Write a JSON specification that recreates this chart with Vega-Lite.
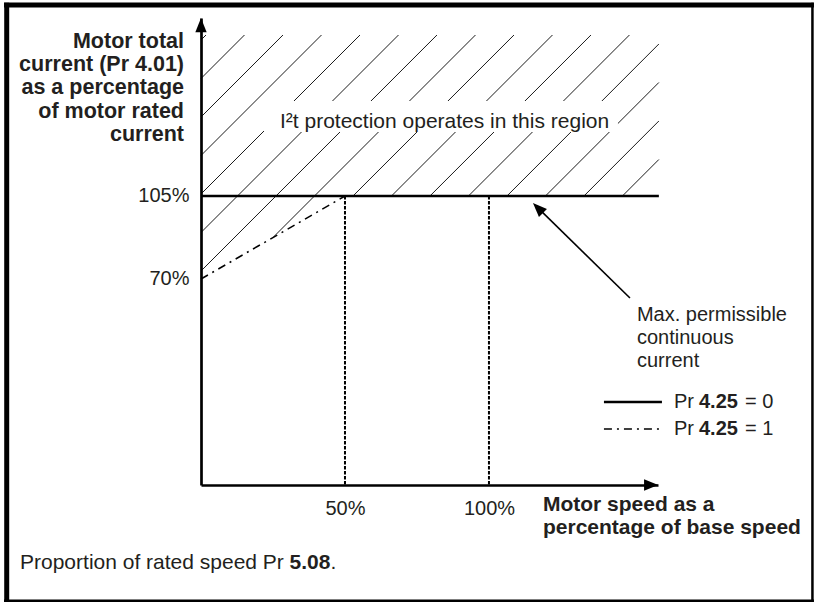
{
  "$schema": "https://vega.github.io/schema/vega-lite/v6.json",
  "width": 457,
  "height": 467,
  "autosize": {"type": "none"},
  "padding": {"left": 201, "top": 18, "right": 157, "bottom": 117},
  "background": "white",
  "config": {"view": {"stroke": null}, "font": "Liberation Sans"},
  "encoding": {
    "x": {
      "field": "x", "type": "quantitative",
      "scale": {"domain": [0, 158.7], "nice": false, "zero": false},
      "axis": {"values": [50, 100], "labelExpr": "datum.value + '%'", "title": null, "grid": false,
        "ticks": false, "tickSize": 0, "domainColor": "#000000", "domainWidth": 2.7,
        "labelFont": "Liberation Sans", "labelFontSize": 20, "labelColor": "#231f20", "labelPadding": 13,
        "labelFlush": false, "labelOverlap": false}
    },
    "y": {
      "field": "y", "type": "quantitative",
      "scale": {"domain": [-16.89, 180.07], "nice": false, "zero": false},
      "axis": {"values": [70, 105], "labelExpr": "datum.value + '%'", "title": null, "grid": false,
        "ticks": false, "tickSize": 0, "domainColor": "#000000", "domainWidth": 2.7,
        "labelFont": "Liberation Sans", "labelFontSize": 20, "labelColor": "#231f20", "labelPadding": 12,
        "labelFlush": false, "labelOverlap": false}
    }
  },
  "layer": [
    {
      "data": {"values": [
        {"x": -67.47, "y": 186.53, "x2": -67.47, "y2": -66.24},
        {"x": -68.4, "y": 185.56, "x2": 212.85, "y2": 185.56}
      ]},
      "mark": {"type": "rule", "color": "#000000", "strokeWidth": 5},
      "encoding": {"x2": {"field": "x2"}, "y2": {"field": "y2"}}
    },
    {
      "data": {"values": [
        {"x": 212.33, "y": 186.53, "x2": 212.33, "y2": -66.24},
        {"x": -68.4, "y": -65.69, "x2": 212.85, "y2": -65.69}
      ]},
      "mark": {"type": "rule", "color": "#000000", "strokeWidth": 2.5},
      "encoding": {"x2": {"field": "x2"}, "y2": {"field": "y2"}}
    },
    {
      "data": {"values": [
        {"x": 1.74, "y": 172.9, "x2": 0, "y2": 170.8},
        {"x": 15.10, "y": 172.9, "x2": 0, "y2": 154.56},
        {"x": 28.47, "y": 172.9, "x2": 0, "y2": 138.32},
        {"x": 41.84, "y": 172.9, "x2": 0, "y2": 122.08},
        {"x": 55.21, "y": 172.9, "x2": 0, "y2": 105.84},
        {"x": 68.58, "y": 172.9, "x2": 0, "y2": 89.61},
        {"x": 81.94, "y": 172.9, "x2": 0, "y2": 73.37},
        {"x": 95.31, "y": 172.9, "x2": 25.24, "y2": 87.79},
        {"x": 108.68, "y": 172.9, "x2": 52.78, "y2": 105},
        {"x": 122.05, "y": 172.9, "x2": 66.15, "y2": 105},
        {"x": 135.42, "y": 172.9, "x2": 79.51, "y2": 105},
        {"x": 148.78, "y": 172.9, "x2": 92.88, "y2": 105},
        {"x": 159.0, "y": 169.11, "x2": 106.25, "y2": 105},
        {"x": 159.0, "y": 152.87, "x2": 119.62, "y2": 105},
        {"x": 159.0, "y": 136.63, "x2": 132.99, "y2": 105},
        {"x": 159.0, "y": 120.39, "x2": 146.35, "y2": 105}
      ]},
      "mark": {"type": "rule", "color": "#000000", "strokeWidth": 0.9},
      "encoding": {"x2": {"field": "x2"}, "y2": {"field": "y2"}}
    },
    {
      "data": {"values": [
        {"x": 21.88, "y": 145.07, "x2": 144.79, "y2": 131.99}
      ]},
      "mark": {"type": "rect", "fill": "#ffffff", "stroke": null},
      "encoding": {"x2": {"field": "x2"}, "y2": {"field": "y2"}}
    },
    {
      "data": {"values": [
        {"x": 0, "y": 105, "x2": 159.0, "y2": 105},
        {"x": 139.93, "y": 18.12, "x2": 160.07, "y2": 18.12}
      ]},
      "mark": {"type": "rule", "color": "#000000", "strokeWidth": 2.4},
      "encoding": {"x2": {"field": "x2"}, "y2": {"field": "y2"}}
    },
    {
      "data": {"values": [
        {"x": 50, "y": 105, "x2": 50, "y2": -16.89},
        {"x": 100, "y": 105, "x2": 100, "y2": -16.89}
      ]},
      "mark": {"type": "rule", "color": "#000000", "strokeWidth": 2, "strokeDash": [3.5, 1.5]},
      "encoding": {"x2": {"field": "x2"}, "y2": {"field": "y2"}}
    },
    {
      "data": {"values": [
        {"x": 0, "y": 70, "x2": 50, "y2": 105},
        {"x": 139.93, "y": 6.73, "x2": 160.07, "y2": 6.73}
      ]},
      "mark": {"type": "rule", "color": "#000000", "strokeWidth": 1.5, "strokeDash": [8, 5, 2, 5]},
      "encoding": {"x2": {"field": "x2"}, "y2": {"field": "y2"}}
    },
    {
      "data": {"values": [
        {"x": 148.96, "y": 61.98, "x2": 117.01, "y2": 99.98}
      ]},
      "mark": {"type": "rule", "color": "#000000", "strokeWidth": 1.6},
      "encoding": {"x2": {"field": "x2"}, "y2": {"field": "y2"}}
    },
    {
      "data": {"values": [{"x": 0, "y": 177.09}]},
      "mark": {"type": "point", "shape": "M0,-1L0.8,1L-0.8,1Z", "size": 200, "filled": true, "color": "#000000", "opacity": 1, "angle": 0}
    },
    {
      "data": {"values": [{"x": 156.32, "y": -16.89}]},
      "mark": {"type": "point", "shape": "M0,-1L0.8,1L-0.8,1Z", "size": 200, "filled": true, "color": "#000000", "opacity": 1, "angle": 90}
    },
    {
      "data": {"values": [{"x": 117.01, "y": 99.98}]},
      "mark": {"type": "point", "shape": "M0,-1L0.8,1L-0.8,1Z", "size": 200, "filled": true, "color": "#000000", "opacity": 1, "angle": 315}
    },
    {
      "data": {"values": [
        {"x": 151.39, "y": 54.81, "t": "Max. permissible"},
        {"x": 151.39, "y": 45.11, "t": "continuous"},
        {"x": 151.39, "y": 35.41, "t": "current"},
        {"x": 164.24, "y": 18.12, "t": "Pr"},
        {"x": 164.24, "y": 6.73, "t": "Pr"},
        {"x": 188.89, "y": 18.12, "t": "= 0"},
        {"x": 188.89, "y": 6.73, "t": "= 1"}
      ]},
      "mark": {"type": "text", "align": "left", "baseline": "middle", "font": "Liberation Sans", "fontSize": 20, "color": "#231f20"},
      "encoding": {"text": {"field": "t", "type": "nominal"}}
    },
    {
      "data": {"values": [
        {"x": 27.43, "y": 136.21, "t": "I²t protection operates in this region"},
        {"x": -62.85, "y": -49.79, "t": "Proportion of rated speed Pr"},
        {"x": 44.97, "y": -49.79, "t": "."}
      ]},
      "mark": {"type": "text", "align": "left", "baseline": "middle", "font": "Liberation Sans", "fontSize": 21, "color": "#231f20"},
      "encoding": {"text": {"field": "t", "type": "nominal"}}
    },
    {
      "data": {"values": [
        {"x": 172.92, "y": 18.12, "t": "4.25"},
        {"x": 172.92, "y": 6.73, "t": "4.25"}
      ]},
      "mark": {"type": "text", "align": "left", "baseline": "middle", "font": "Liberation Sans", "fontSize": 20, "fontWeight": "bold", "color": "#231f20"},
      "encoding": {"text": {"field": "t", "type": "nominal"}}
    },
    {
      "data": {"values": [
        {"x": 30.76, "y": -49.79, "t": "5.08"},
        {"x": 118.75, "y": -25.32, "t": "Motor speed as a"},
        {"x": 118.75, "y": -35.03, "t": "percentage of base speed"}
      ]},
      "mark": {"type": "text", "align": "left", "baseline": "middle", "font": "Liberation Sans", "fontSize": 21, "fontWeight": "bold", "color": "#231f20"},
      "encoding": {"text": {"field": "t", "type": "nominal"}}
    },
    {
      "data": {"values": [
        {"x": -5.9, "y": 170.08, "t": "Motor total"},
        {"x": -5.9, "y": 160.25, "t": "current (Pr 4.01)"},
        {"x": -5.9, "y": 150.42, "t": "as a percentage"},
        {"x": -5.9, "y": 140.55, "t": "of motor rated"},
        {"x": -5.9, "y": 130.73, "t": "current"}
      ]},
      "mark": {"type": "text", "align": "right", "baseline": "middle", "font": "Liberation Sans", "fontSize": 21.5, "fontWeight": "bold", "color": "#231f20"},
      "encoding": {"text": {"field": "t", "type": "nominal"}}
    }
  ]
}
